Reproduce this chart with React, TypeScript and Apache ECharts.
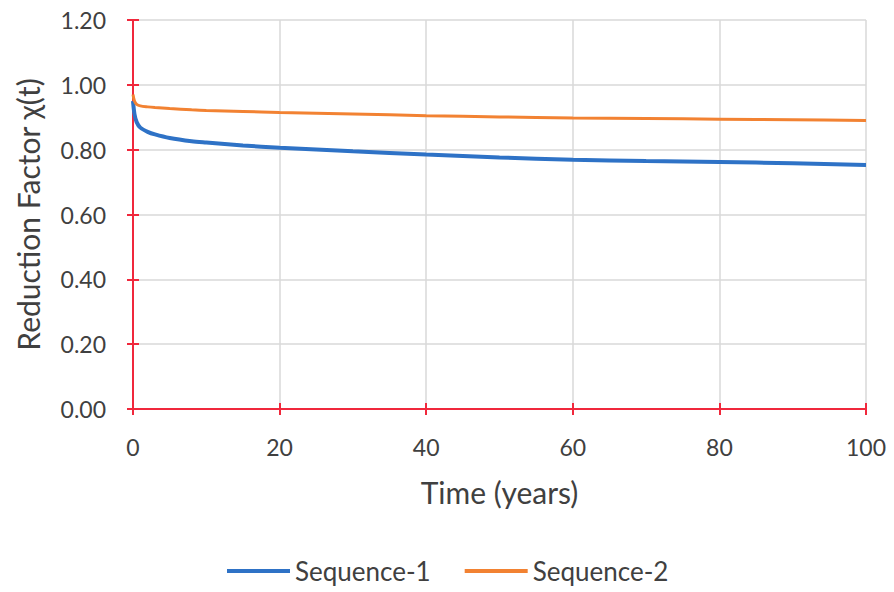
import React, { useEffect, useRef } from "react";
import * as echarts from "echarts";

const timeYears = [0, 0.2, 0.5, 1, 2, 3, 5, 8, 10, 15, 20, 30, 40, 50, 60, 70, 80, 90, 100];
const sequence1 = [0.95, 0.91, 0.885, 0.868, 0.855, 0.847, 0.836, 0.826, 0.822, 0.813, 0.806, 0.795, 0.785, 0.776, 0.769, 0.765, 0.762, 0.758, 0.753];
const sequence2 = [0.97, 0.95, 0.94, 0.935, 0.932, 0.93, 0.927, 0.923, 0.921, 0.918, 0.915, 0.91, 0.905, 0.901, 0.898, 0.896, 0.894, 0.892, 0.89];
const seriesNames = ["Sequence-1", "Sequence-2"];

const FONT = "Lato, 'Open Sans', sans-serif";
const RED = "#F0283C";
const TXT = "#404040";

export default function App() {
  const ref = useRef<HTMLDivElement>(null);
  useEffect(() => {
    const chart = echarts.init(ref.current!, null, { renderer: "svg" });
    const pair = (ys: number[]) => timeYears.map((t, i) => [t, ys[i]]);
    chart.setOption({
      animation: false,
      backgroundColor: "#ffffff",
      textStyle: { fontFamily: FONT },
      grid: { left: 133, right: 28, top: 20, bottom: 183, containLabel: false },
      legend: {
        top: 557,
        left: 227,
        padding: 0,
        itemWidth: 63,
        itemHeight: 14,
        itemGap: 34,
        icon: "path://M0,5 L63,5 L63,9 L0,9 Z",
        textStyle: { fontFamily: FONT, fontSize: 26, color: TXT, lineHeight: 28 },
        data: seriesNames,
      },
      xAxis: [
        {
          type: "value",
          min: 0,
          max: 100,
          interval: 20,
          position: "bottom",
          name: "Time (years)",
          nameLocation: "middle",
          nameGap: 68,
          nameTextStyle: { fontFamily: FONT, fontSize: 30, color: TXT },
          axisLine: { show: true, lineStyle: { color: RED, width: 2 } },
          axisTick: { show: true, inside: false, length: 6, lineStyle: { color: RED, width: 2 } },
          axisLabel: { fontFamily: FONT, fontSize: 23, color: TXT, margin: 26 },
          splitLine: { show: true, lineStyle: { color: "#d9d9d9", width: 1.5 } },
        },
        {
          type: "value",
          min: 0,
          max: 100,
          interval: 20,
          position: "bottom",
          axisLine: { show: false },
          axisTick: { show: true, inside: true, length: 6, lineStyle: { color: RED, width: 2 } },
          axisLabel: { show: false },
          splitLine: { show: false },
        },
      ],
      yAxis: [
        {
          type: "value",
          min: 0,
          max: 1.2,
          interval: 0.2,
          position: "left",
          name: "Reduction Factor χ(t)",
          nameLocation: "middle",
          nameGap: 90,
          nameRotate: 90,
          nameTextStyle: { fontFamily: FONT, fontSize: 30, color: TXT },
          axisLine: { show: true, lineStyle: { color: RED, width: 2 } },
          axisTick: { show: true, inside: false, length: 6, lineStyle: { color: RED, width: 2 } },
          axisLabel: { fontFamily: FONT, fontSize: 23, color: TXT, margin: 27, formatter: (v: number) => v.toFixed(2) },
          splitLine: { show: true, lineStyle: { color: "#d9d9d9", width: 1.5 } },
        },
        {
          type: "value",
          min: 0,
          max: 1.2,
          interval: 0.2,
          position: "left",
          axisLine: { show: false },
          axisTick: { show: true, inside: true, length: 6, lineStyle: { color: RED, width: 2 } },
          axisLabel: { show: false },
          splitLine: { show: false },
        },
      ],
      series: [
        {
          name: seriesNames[0],
          type: "line",
          xAxisIndex: 0,
          yAxisIndex: 0,
          data: pair(sequence1),
          symbol: "none",
          smooth: 0.3,
          color: "#2E72C6",
          lineStyle: { width: 4, color: "#2E72C6" },
          z: 3,
        },
        {
          name: seriesNames[1],
          type: "line",
          xAxisIndex: 0,
          yAxisIndex: 0,
          data: pair(sequence2),
          symbol: "none",
          smooth: 0.3,
          color: "#F28232",
          lineStyle: { width: 3, color: "#F28232" },
          z: 3,
        },
      ],
    });
    return () => chart.dispose();
  }, []);
  return <div ref={ref} style={{ width: 894, height: 592, position: "absolute", left: 0, top: 0 }} />;
}
